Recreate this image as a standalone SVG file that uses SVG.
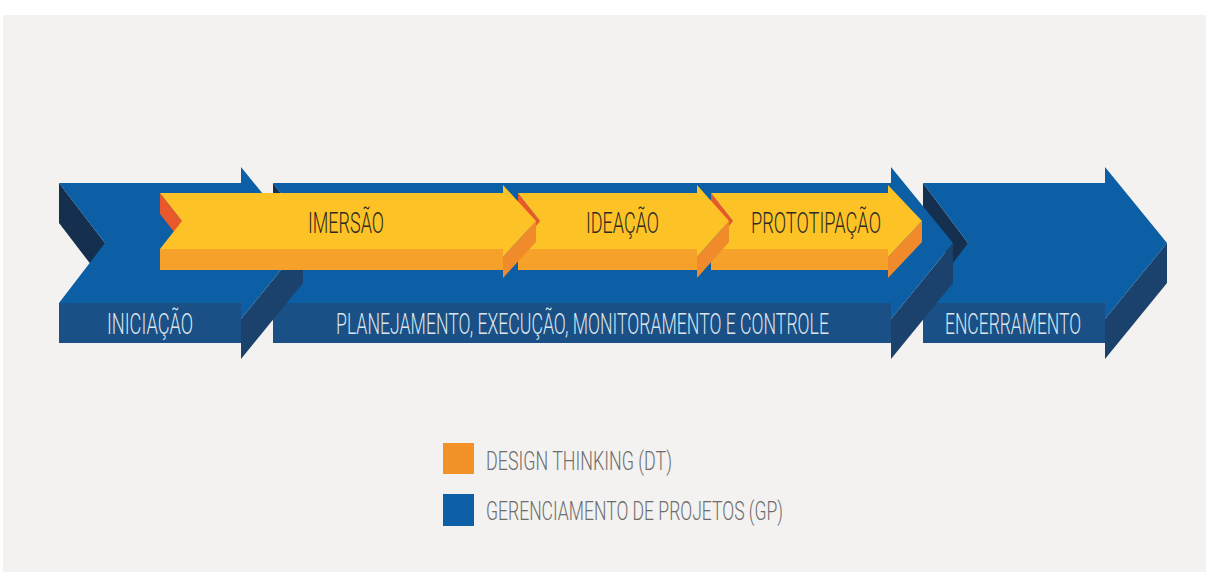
<svg xmlns="http://www.w3.org/2000/svg" width="1206" height="572" viewBox="0 0 1206 572">
<style>
.bt{fill:#0c5fa5}
.bf{fill:#1a5085}
.bs{fill:#1b426c}
.bw{fill:#15304f}
.yt{fill:#fdc326}
.yf{fill:#f6a22a}
.ys{fill:#f08a2b}
.yw{fill:#e8582a}
.ly{font-family:Roboto,'Liberation Sans',sans-serif;font-weight:300;font-size:29px;fill:#2e2a24}
.lb{font-family:Roboto,'Liberation Sans',sans-serif;font-weight:300;font-size:29px;fill:#dde6ef}
.lg{font-family:Roboto,'Liberation Sans',sans-serif;font-weight:300;font-size:25px;fill:#6d6d6d}
</style>
<rect x="0" y="0" width="1206" height="572" fill="#ffffff"/>
<rect x="3" y="15" width="1203" height="557" fill="#f3f2f0"/>

<g id="gp-encerramento">
<polygon class="bw" points="923,183 968,243 968,283 923,223"/>
<polygon class="bf" points="923,303 1105,303 1105,343 923,343"/>
<polygon class="bs" points="1167,243 1167,283 1105,359 1105,319"/>
<polygon class="bt" points="923,183 1105,183 1105,167 1167,243 1105,319 1105,303 923,303 968,243"/>
<text class="lb" transform="translate(945,334) scale(0.63,1)" x="0" y="0" textLength="216" lengthAdjust="spacingAndGlyphs">ENCERRAMENTO</text>
</g>

<g id="gp-planejamento">
<polygon class="bw" points="273,183 318,243 318,283 273,223"/>
<polygon class="bf" points="273,303 891,303 891,343 273,343"/>
<polygon class="bs" points="953,243 953,283 891,359 891,319"/>
<polygon class="bt" points="273,183 891,183 891,167 953,243 891,319 891,303 273,303 318,243"/>
<text class="lb" transform="translate(336,334) scale(0.63,1)" x="0" y="0" textLength="782.5" lengthAdjust="spacingAndGlyphs">PLANEJAMENTO, EXECUÇÃO, MONITORAMENTO E CONTROLE</text>
</g>

<g id="gp-iniciacao">
<polygon class="bw" points="59,183 105,243 105,283 59,223"/>
<polygon class="bf" points="59,303 241,303 241,343 59,343"/>
<polygon class="bs" points="303,243 303,283 241,359 241,319"/>
<polygon class="bt" points="59,183 241,183 241,167 303,243 241,319 241,303 59,303 105,243"/>
<text class="lb" transform="translate(107,334) scale(0.63,1)" x="0" y="0" textLength="136.5" lengthAdjust="spacingAndGlyphs">INICIAÇÃO</text>
</g>

<g id="dt-prototipacao">
<polygon class="yw" points="711,193 733,221 733,242 711,214"/>
<polygon class="yf" points="711,249 888,249 888,270 711,270"/>
<polygon class="ys" points="922,221 922,242 888,278 888,257"/>
<polygon class="yt" points="711,193 888,193 888,185 922,221 888,257 888,249 711,249 733,221"/>
<text class="ly" transform="translate(751,233) scale(0.63,1)" x="0" y="0" textLength="206.3" lengthAdjust="spacingAndGlyphs">PROTOTIPAÇÃO</text>
</g>

<g id="dt-ideacao">
<polygon class="yw" points="518,193 540,221 540,242 518,214"/>
<polygon class="yf" points="518,249 697,249 697,270 518,270"/>
<polygon class="ys" points="729,221 729,242 697,278 697,257"/>
<polygon class="yt" points="518,193 697,193 697,185 729,221 697,257 697,249 518,249 540,221"/>
<text class="ly" transform="translate(586,233) scale(0.63,1)" x="0" y="0" textLength="115.9" lengthAdjust="spacingAndGlyphs">IDEAÇÃO</text>
</g>

<g id="dt-imersao">
<polygon class="yw" points="160,193 182,221 182,242 160,214"/>
<polygon class="yf" points="160,249 503,249 503,270 160,270"/>
<polygon class="ys" points="536,221 536,242 503,278 503,257"/>
<polygon class="yt" points="160,193 503,193 503,185 536,221 503,257 503,249 160,249 182,221"/>
<text class="ly" transform="translate(308,233) scale(0.63,1)" x="0" y="0" textLength="120.6" lengthAdjust="spacingAndGlyphs">IMERSÃO</text>
</g>

<g id="connectors"></g>

<g id="legend">
<rect x="443" y="443" width="31" height="31" fill="#f39229"/>
<text class="lg" transform="translate(486,470) scale(0.63,1)" x="0" y="0" textLength="295.2" lengthAdjust="spacingAndGlyphs">DESIGN THINKING (DT)</text>
<rect x="443" y="494" width="31" height="32" fill="#0d5fa6"/>
<text class="lg" transform="translate(486,520) scale(0.63,1)" x="0" y="0" textLength="471.4" lengthAdjust="spacingAndGlyphs">GERENCIAMENTO DE PROJETOS (GP)</text>
</g>
</svg>
